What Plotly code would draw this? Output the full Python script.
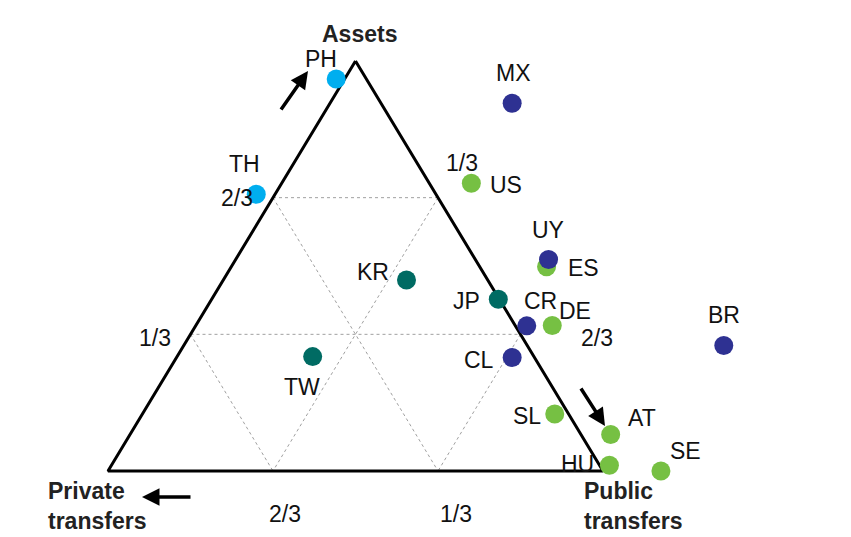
import plotly.graph_objects as go

# country codes and their shares (assets, private transfers, public transfers)
countries = ["PH", "TH", "MX", "US", "ES", "UY", "KR", "JP", "CR", "DE",
             "BR", "CL", "TW", "SL", "AT", "HU", "SE"]
assets = [0.956, 0.675, 0.897, 0.702, 0.498, 0.516, 0.466, 0.419, 0.354, 0.355,
          0.306, 0.277, 0.279, 0.139, 0.089, 0.014, 0.000]
private_tr = [0.061, 0.363, -0.265, -0.085, -0.135, -0.148, 0.164, 0.002, -0.023, -0.075,
              -0.397, 0.045, 0.447, 0.028, -0.060, -0.020, -0.117]
public_tr = [-0.017, -0.038, 0.368, 0.383, 0.637, 0.632, 0.370, 0.579, 0.669, 0.720,
             1.091, 0.678, 0.274, 0.833, 0.971, 1.006, 1.117]
group = ["asia_low", "asia_low", "latam", "rich", "rich", "latam", "asia_high", "asia_high",
         "latam", "rich", "latam", "latam", "asia_high", "rich", "rich", "rich", "rich"]

tick_vals = [1 / 3, 2 / 3]
tick_text = ["1/3", "2/3"]

group_colors = {"asia_low": "#00AEEF", "latam": "#2E3192",
                "rich": "#76C043", "asia_high": "#006B63"}

# label offsets from the marker centre, in pixels (right, down)
label_offset = {"PH": (-15, -20), "TH": (-12, -30), "MX": (1, -30), "US": (35, 2),
                "ES": (37, 1), "UY": (-1, -29), "KR": (-33, -8), "JP": (-32, 2),
                "CR": (14, -25), "DE": (23, -14), "BR": (0, -31), "CL": (-33, 3),
                "TW": (-11, 30), "SL": (-28, 2), "AT": (31, -17), "HU": (-32, -1),
                "SE": (25, -20)}
# tick label offsets from the edge point, per axis and tick
tick_offset = {"a": [(-36, 4), (-36, 0)], "b": [(18, 43), (12, 43)],
               "c": [(24, -35), (76, 4)]}

W, H = 851, 537
FONT = "Liberation Sans, Arial, sans-serif"
# triangle in pixels: base from x=108 to 603 at y=471, apex at y=61
X0, XS, Y0, YS = 108, 495, 471, 410


def to_xy(a, b, c):
    # ternary -> plane, base from 0 to 1, apex at (0.5, 1)
    return c + 0.5 * a, a


fig = go.Figure()

# grid lines at the tick values
for v in tick_vals:
    for p, q in [((v, 1 - v, 0), (v, 0, 1 - v)),
                 ((1 - v, v, 0), (0, v, 1 - v)),
                 ((1 - v, 0, v), (0, 1 - v, v))]:
        x1, y1 = to_xy(*p)
        x2, y2 = to_xy(*q)
        fig.add_trace(go.Scatter(x=[x1, x2], y=[y1, y2], mode="lines",
                                 line=dict(color="#a0a0a0", width=1, dash="dot"),
                                 hoverinfo="skip", showlegend=False))

# triangle frame
corners = [(1, 0, 0), (0, 1, 0), (0, 0, 1), (1, 0, 0)]
fx, fy = zip(*[to_xy(*p) for p in corners])
fig.add_trace(go.Scatter(x=fx, y=fy, mode="lines",
                         line=dict(color="black", width=3),
                         hoverinfo="skip", showlegend=False))

# countries
pts = [to_xy(a, b, c) for a, b, c in zip(assets, private_tr, public_tr)]
fig.add_trace(go.Scatter(
    x=[p[0] for p in pts], y=[p[1] for p in pts],
    mode="markers", text=countries,
    marker=dict(size=19, color=[group_colors[g] for g in group], line=dict(width=0)),
    showlegend=False, cliponaxis=False,
))

lab_font = dict(size=23, color="#111111", family=FONT)
for name, (x, y) in zip(countries, pts):
    dx, dy = label_offset[name]
    fig.add_annotation(x=x, y=y, text=name, showarrow=False, font=lab_font,
                       xshift=dx, yshift=-dy)

# tick labels along the edges
for axis in ["a", "b", "c"]:
    for v, t, (dx, dy) in zip(tick_vals, tick_text, tick_offset[axis]):
        if axis == "a":
            p = (v, 1 - v, 0)
        elif axis == "b":
            p = (0, v, 1 - v)
        else:
            p = (1 - v, 0, v)
        x, y = to_xy(*p)
        fig.add_annotation(x=x, y=y, text=t, showarrow=False, font=lab_font,
                           xshift=dx, yshift=-dy)

fig.update_layout(
    width=W, height=H,
    margin=dict(l=0, r=0, t=0, b=0),
    paper_bgcolor="white", plot_bgcolor="white",
    font=dict(family=FONT),
    xaxis=dict(visible=False, range=[-X0 / XS, (W - X0) / XS], fixedrange=True),
    yaxis=dict(visible=False, range=[-(H - Y0) / YS, Y0 / YS], fixedrange=True),
)


def px(x, y):
    return x / W, 1 - y / H


title_font = dict(size=23, color="#222222", family=FONT)
for txt, (x, y), anchor, yanchor in [
    ("<b>Assets</b>", (359, 34), "center", "middle"),
    ("<b>Private<br>transfers</b>", (46, 536), "left", "bottom"),
    ("<b>Public<br>transfers</b>", (582, 536), "left", "bottom"),
]:
    xx, yy = px(x, y)
    fig.add_annotation(x=xx, y=yy, xref="paper", yref="paper", text=txt,
                       showarrow=False, xanchor=anchor, yanchor=yanchor,
                       align="left", font=title_font)

# direction arrows
for (hx, hy), (dx, dy) in [((308, 71), (-28, 40)), ((142, 497), (50, 0)), ((605, 426), (-25, -39))]:
    xx, yy = px(hx, hy)
    fig.add_annotation(x=xx, y=yy, xref="paper", yref="paper", text="",
                       showarrow=True, arrowhead=2, arrowsize=1, arrowwidth=3.5,
                       arrowcolor="black", ax=dx, ay=dy, standoff=0)

fig.write_html("out.html", config={"displayModeBar": False},
               post_script="document.body.style.margin='0';")
